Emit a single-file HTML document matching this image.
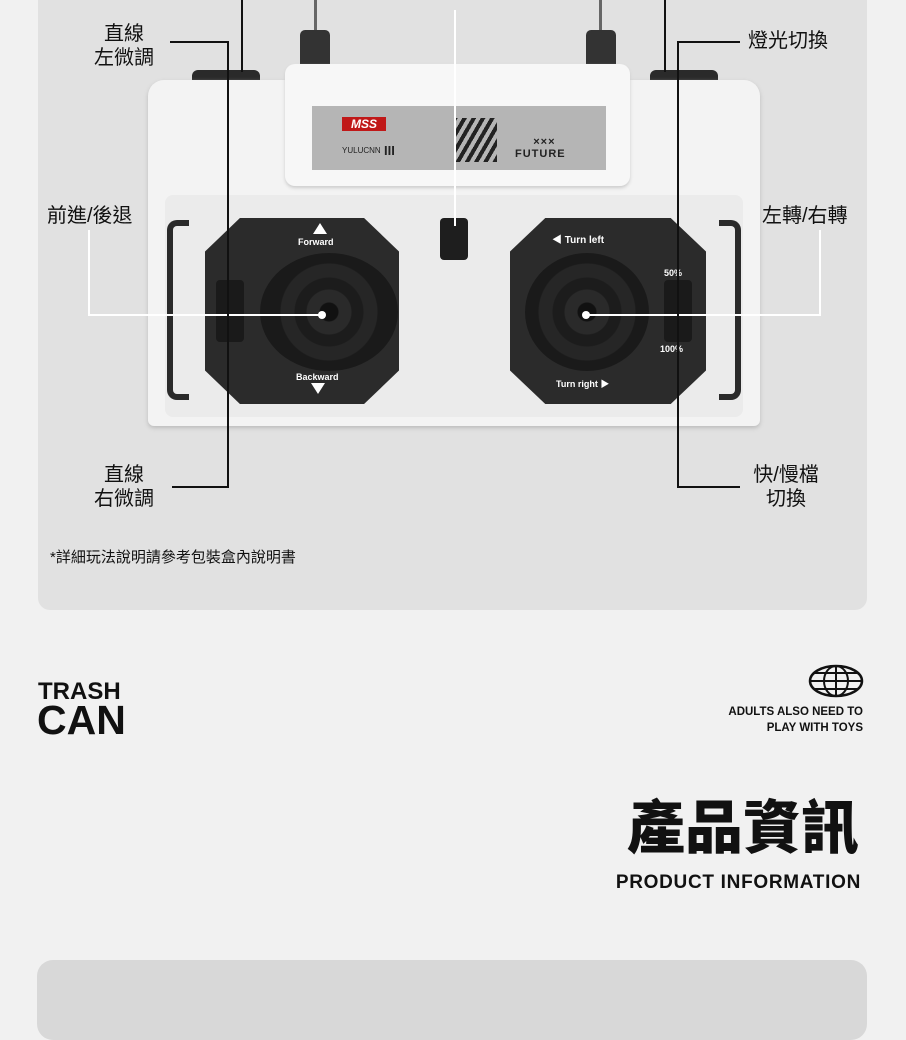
<!DOCTYPE html>
<html><head><meta charset="utf-8"><style>
*{margin:0;padding:0;box-sizing:border-box}
body{width:906px;height:1000px;background:#f1f1f1;position:relative;overflow:hidden;font-family:"Liberation Sans","Noto Sans CJK TC",sans-serif;color:#111}
.a{position:absolute}
.card{left:38px;top:-20px;width:829px;height:630px;background:#e1e1e1;border-radius:12px}
.card2{left:37px;top:960px;width:830px;height:80px;background:#d8d8d8;border-radius:16px}
.bl{background:#111}
.wl{background:#fff}
.lab{font-size:20px;line-height:24px;text-align:center}
.oct{background:#2b2b2b;clip-path:polygon(18% 0,82% 0,100% 18%,100% 82%,82% 100%,18% 100%,0 82%,0 18%)}
.stick{border-radius:50%;background:radial-gradient(circle,#111 0 9px,#2a2a2a 10px 22px,#1c1c1c 23px 34px,#262626 35px 48px,#1a1a1a 49px 70px)}
.sm{color:#fff;font-size:9px;font-weight:bold}
</style></head><body>
<div class="a card"></div>
<div class="a card2"></div>

<div class="a" style="left:314px;top:0;width:3px;height:32px;background:#666"></div>
<div class="a" style="left:599px;top:0;width:3px;height:32px;background:#666"></div>
<div class="a" style="left:300px;top:30px;width:30px;height:40px;background:#333;border-radius:5px 5px 0 0"></div>
<div class="a" style="left:586px;top:30px;width:30px;height:40px;background:#333;border-radius:5px 5px 0 0"></div>
<div class="a" style="left:192px;top:70px;width:68px;height:12px;background:#2a2a2a;border-radius:6px 6px 0 0"></div>
<div class="a" style="left:650px;top:70px;width:68px;height:12px;background:#2a2a2a;border-radius:6px 6px 0 0"></div>

<div class="a" style="left:148px;top:80px;width:612px;height:346px;background:#f3f3f3;border-radius:16px 16px 6px 6px;box-shadow:0 2px 4px #bbb"></div>
<div class="a" style="left:165px;top:195px;width:578px;height:222px;background:#ebebeb;border-radius:8px"></div>
<div class="a" style="left:285px;top:64px;width:345px;height:122px;background:#f7f7f7;border-radius:10px;box-shadow:0 2px 3px #ccc"></div>
<div class="a" style="left:312px;top:106px;width:294px;height:64px;background:#b5b5b5"></div>
<div class="a" style="left:342px;top:117px;width:44px;height:14px;background:#c01818;font-size:12px;font-weight:bold;color:#fff;font-style:italic;line-height:14px;text-align:center">MSS</div>
<div class="a" style="left:342px;top:146px;font-size:8px;color:#222">YULUCNN</div>
<div class="a" style="left:384px;top:143px;font-size:13px;font-weight:bold;color:#222">III</div>
<div class="a" style="left:455px;top:118px;width:42px;height:44px;background:repeating-linear-gradient(-60deg,#222 0 4px,#b5b5b5 4px 8px)"></div>
<div class="a" style="left:515px;top:136px;font-size:11px;font-weight:bold;color:#222;letter-spacing:1px;text-align:center;line-height:12px">&nbsp;&nbsp;×××<br>FUTURE</div>

<div class="a" style="left:167px;top:220px;width:22px;height:180px;border:6px solid #2a2a2a;border-right:none;border-radius:10px 0 0 10px"></div>
<div class="a" style="left:719px;top:220px;width:22px;height:180px;border:6px solid #2a2a2a;border-left:none;border-radius:0 10px 10px 0"></div>

<div class="a oct" style="left:205px;top:218px;width:194px;height:186px"></div>
<div class="a stick" style="left:260px;top:253px;width:138px;height:118px"></div>
<div class="a sm" style="left:298px;top:237px">Forward</div>
<div class="a sm" style="left:296px;top:372px">Backward</div>
<div class="a" style="left:313px;top:223px;width:0;height:0;border-left:7px solid transparent;border-right:7px solid transparent;border-bottom:11px solid #fff"></div>
<div class="a" style="left:311px;top:383px;width:0;height:0;border-left:7px solid transparent;border-right:7px solid transparent;border-top:11px solid #fff"></div>
<div class="a" style="left:216px;top:280px;width:28px;height:62px;background:#1a1a1a;border-radius:4px"></div>
<div class="a oct" style="left:510px;top:218px;width:196px;height:186px"></div>
<div class="a stick" style="left:525px;top:253px;width:124px;height:118px"></div>
<div class="a sm" style="left:552px;top:231px;font-size:10px">◀ Turn left</div>
<div class="a sm" style="left:556px;top:377px">Turn right ▶</div>
<div class="a" style="left:664px;top:280px;width:28px;height:62px;background:#1a1a1a;border-radius:4px"></div>
<div class="a sm" style="left:664px;top:268px">50%</div>
<div class="a sm" style="left:660px;top:344px">100%</div>
<div class="a" style="left:440px;top:218px;width:28px;height:42px;background:#1e1e1e;border-radius:4px"></div>

<div class="a wl" style="left:454px;top:10px;width:2px;height:216px"></div>
<div class="a wl" style="left:88px;top:230px;width:2px;height:86px"></div>
<div class="a wl" style="left:88px;top:314px;width:235px;height:2px"></div>
<div class="a wl" style="left:819px;top:230px;width:2px;height:86px"></div>
<div class="a wl" style="left:586px;top:314px;width:235px;height:2px"></div>
<div class="a" style="left:318px;top:311px;width:8px;height:8px;border-radius:50%;background:#fff"></div>
<div class="a" style="left:582px;top:311px;width:8px;height:8px;border-radius:50%;background:#fff"></div>

<div class="a bl" style="left:241px;top:0;width:2px;height:72px"></div>
<div class="a bl" style="left:664px;top:0;width:2px;height:72px"></div>
<div class="a bl" style="left:170px;top:41px;width:59px;height:2px"></div>
<div class="a bl" style="left:227px;top:41px;width:2px;height:447px"></div>
<div class="a bl" style="left:172px;top:486px;width:57px;height:2px"></div>
<div class="a bl" style="left:677px;top:41px;width:63px;height:2px"></div>
<div class="a bl" style="left:677px;top:41px;width:2px;height:447px"></div>
<div class="a bl" style="left:677px;top:486px;width:63px;height:2px"></div>

<div class="a lab" style="left:86px;top:22px;width:76px">直線<br>左微調</div>
<div class="a lab" style="left:86px;top:463px;width:76px">直線<br>右微調</div>
<div class="a lab" style="left:748px;top:29px">燈光切換</div>
<div class="a lab" style="left:744px;top:463px;width:84px">快/慢檔<br>切換</div>
<div class="a lab" style="left:47px;top:204px">前進/後退</div>
<div class="a lab" style="left:762px;top:204px">左轉/右轉</div>
<div class="a" style="left:50px;top:546px;font-size:15px">*詳細玩法說明請參考包裝盒內說明書</div>

<div class="a" style="left:38px;top:679px;font-size:24px;font-weight:bold;line-height:26px">TRASH</div>
<div class="a" style="left:37px;top:700px;font-size:41px;font-weight:bold;line-height:40px">CAN</div>
<svg class="a" style="left:808px;top:664px" width="56" height="34" viewBox="0 0 56 34"><ellipse cx="28" cy="17" rx="26" ry="15" fill="none" stroke="#111" stroke-width="2.5"/><ellipse cx="28" cy="17" rx="12" ry="15" fill="none" stroke="#111" stroke-width="2"/><line x1="28" y1="2" x2="28" y2="32" stroke="#111" stroke-width="2"/><line x1="2" y1="17" x2="54" y2="17" stroke="#111" stroke-width="2"/><line x1="6" y1="9" x2="50" y2="9" stroke="#111" stroke-width="2"/><line x1="6" y1="25" x2="50" y2="25" stroke="#111" stroke-width="2"/></svg>
<div class="a" style="right:43px;top:704px;font-size:11.5px;font-weight:bold;text-align:right;line-height:16px">ADULTS ALSO NEED TO<br>PLAY WITH TOYS</div>
<div class="a" style="right:47px;top:794px;font-size:58px;font-weight:900;line-height:70px">產品資訊</div>
<div class="a" style="right:45px;top:872px;font-size:19px;font-weight:bold;letter-spacing:0.7px">PRODUCT INFORMATION</div>
</body></html>
